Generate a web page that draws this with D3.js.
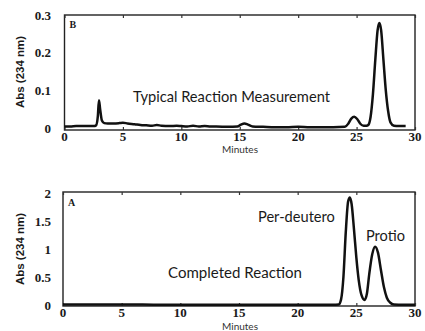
<!DOCTYPE html>
<html>
<head>
<meta charset="utf-8">
<script src="https://cdn.jsdelivr.net/npm/d3@7"></script>
<style>
  html, body { margin: 0; padding: 0; background: #fff; }
  svg { display: block; }
  .tick-num { font-family: "Liberation Serif", serif; font-weight: bold; font-size: 13px; fill: #1a1a1a; }
  .ytitle { font-family: "Liberation Sans", Arial, sans-serif; font-weight: bold; font-size: 11.5px; fill: #1a1a1a; }
  .xtitle { font-family: Lato, sans-serif; font-size: 10px; fill: #333; }
  .note { font-family: Lato, sans-serif; font-size: 14px; fill: #1a1a1a; }
  .panel-tag { font-family: "Liberation Serif", serif; font-weight: bold; font-size: 10px; fill: #1a1a1a; }
</style>
</head>
<body>
<svg id="chart" width="425" height="331"></svg>
<script>
// Chromatogram B: typical reaction measurement (minutes, absorbance at 234 nm)
const minutesB = [0, 0.5, 1, 1.5, 2, 2.5, 2.7, 2.85, 2.95, 3.05, 3.2, 3.4, 3.7, 4.2, 4.7, 5.0, 5.4, 6, 6.5, 7, 7.5, 7.9, 8.3, 9, 9.6, 10, 10.5, 11, 11.5, 12, 12.5, 13, 14, 14.8, 15.1, 15.4, 15.7, 16.1, 17, 18, 19, 20, 21, 22, 23, 24.0, 24.3, 24.55, 24.8, 25.05, 25.3, 25.6, 25.85, 26.0, 26.2, 26.4, 26.6, 26.8, 26.95, 27.1, 27.3, 27.5, 27.7, 27.9, 28.2, 28.6, 29.2];
const absB    = [0.004, 0.004, 0.005, 0.005, 0.005, 0.005, 0.007, 0.03, 0.074, 0.05, 0.02, 0.013, 0.012, 0.012, 0.013, 0.014, 0.012, 0.01, 0.008, 0.007, 0.006, 0.008, 0.006, 0.005, 0.006, 0.005, 0.004, 0.006, 0.004, 0.005, 0.004, 0.004, 0.003, 0.004, 0.009, 0.012, 0.009, 0.004, 0.003, 0.002, 0.002, 0.003, 0.002, 0.002, 0.002, 0.003, 0.012, 0.025, 0.03, 0.024, 0.012, 0.006, 0.006, 0.008, 0.03, 0.09, 0.18, 0.26, 0.279, 0.26, 0.18, 0.10, 0.045, 0.015, 0.006, 0.005, 0.005];

// Chromatogram A: completed reaction
const minutesA = [0, 2, 5, 8, 12, 16, 20, 23, 23.5, 23.7, 23.9, 24.1, 24.3, 24.45, 24.6, 24.8, 25.0, 25.2, 25.45, 25.7, 25.9, 26.1, 26.35, 26.6, 26.85, 27.1, 27.35, 27.6, 27.9, 28.2, 29, 30];
const absA    = [0.01, 0.01, 0.01, 0.005, 0.005, 0.005, 0.005, 0.005, 0.01, 0.1, 0.5, 1.3, 1.85, 1.92, 1.8, 1.35, 0.85, 0.45, 0.17, 0.09, 0.2, 0.55, 0.9, 1.04, 0.93, 0.62, 0.32, 0.13, 0.04, 0.01, 0.005, 0.005];

const xTicks = [0, 5, 10, 15, 20, 25, 30];
const yTicksB = [0, 0.1, 0.2, 0.3];
const yLabelsB = ["0", "0.1", "0.2", "0.3"];
const yTicksA = [0, 0.5, 1, 1.5, 2];
const yLabelsA = ["0", "0.5", "1", "1.5", "2"];

const svg = d3.select("#chart");

// set a text's font size so that it spans the given width
function fitWidth(sel, width) {
  const node = sel.node();
  const base = parseFloat(getComputedStyle(node).fontSize);
  const w = node.getComputedTextLength();
  if (w > 0) sel.style("font-size", (base * width / w).toFixed(2) + "px");
}

function panel(cfg) {
  const x = d3.scaleLinear().domain([0, 30]).range([cfg.left, cfg.right]);
  const y = d3.scaleLinear().domain(cfg.yDomain).range([cfg.bottom, cfg.top]);
  const g = svg.append("g");

  const ft = cfg.top - cfg.frameTopPad;
  const fb = cfg.bottom + cfg.frameBottomPad;

  // frame
  g.append("rect")
    .attr("x", cfg.left).attr("y", ft)
    .attr("width", cfg.right - cfg.left).attr("height", fb - ft)
    .attr("fill", "none").attr("stroke", "#222").attr("stroke-width", 1.4);

  // inward tick marks on bottom and top edges
  const xb = g.append("g").attr("transform", `translate(0,${fb})`)
    .call(d3.axisBottom(x).tickValues(xTicks).tickSize(-3).tickFormat(""));
  const xt = g.append("g").attr("transform", `translate(0,${ft})`)
    .call(d3.axisTop(x).tickValues(xTicks).tickSize(-3).tickFormat(""));
  [xb, xt].forEach(a => {
    a.select(".domain").remove();
    a.selectAll("line").attr("stroke", "#333").attr("stroke-width", 1.2);
  });

  // x tick labels
  g.selectAll(".xl").data(xTicks).join("text")
    .attr("class", "tick-num")
    .attr("x", d => x(d)).attr("y", cfg.xLabelY)
    .attr("text-anchor", "middle").text(d => d);

  // y tick labels
  g.selectAll(".yl").data(cfg.yTicks).join("text")
    .attr("class", "tick-num")
    .attr("x", 51).attr("y", d => y(d) + 4.5)
    .attr("text-anchor", "end").text((d, i) => cfg.yLabels[i]);

  // axis titles
  g.append("text").attr("class", "ytitle")
    .attr("transform", `translate(${cfg.yTitleX},${cfg.yTitleY}) rotate(-90)`)
    .attr("text-anchor", "middle").text("Abs (234 nm)");
  g.append("text").attr("class", "xtitle")
    .attr("x", 240).attr("y", cfg.xTitleY)
    .attr("text-anchor", "middle").text("Minutes");

  // panel letter
  g.append("text").attr("class", "panel-tag")
    .attr("x", cfg.left + 5).attr("y", cfg.top + 13).text(cfg.tag);

  // trace
  const pts = cfg.xs.map((t, i) => [t, cfg.ys[i]]);
  g.append("path").datum(pts)
    .attr("fill", "none").attr("stroke", "#111").attr("stroke-width", 2.5)
    .attr("stroke-linejoin", "round")
    .attr("d", d3.line().x(d => x(d[0])).y(d => y(d[1])).curve(d3.curveMonotoneX));

  // annotations
  cfg.notes.forEach(n => {
    const t = g.append("text").attr("class", "note")
      .attr("x", n.x).attr("y", n.y).text(n.text);
    fitWidth(t, n.w);
  });
}

panel({
  left: 64.5, right: 415, top: 15, bottom: 128,
  frameTopPad: 0, frameBottomPad: 2,
  yDomain: [0, 0.3], yTicks: yTicksB, yLabels: yLabelsB,
  xs: minutesB, ys: absB, tag: "B",
  xLabelY: 140.5, xTitleY: 152.5, yTitleX: 24, yTitleY: 72,
  notes: [{ x: 133, y: 102, w: 197, text: "Typical Reaction Measurement" }]
});

panel({
  left: 63, right: 415, top: 193, bottom: 305,
  frameTopPad: 1, frameBottomPad: 1,
  yDomain: [0, 2], yTicks: yTicksA, yLabels: yLabelsA,
  xs: minutesA, ys: absA, tag: "A",
  xLabelY: 316.5, xTitleY: 329.5, yTitleX: 24, yTitleY: 249,
  notes: [
    { x: 258, y: 222, w: 77, text: "Per-deutero" },
    { x: 366, y: 241, w: 39, text: "Protio" },
    { x: 168, y: 278, w: 134, text: "Completed Reaction" }
  ]
});
</script>
</body>
</html>
